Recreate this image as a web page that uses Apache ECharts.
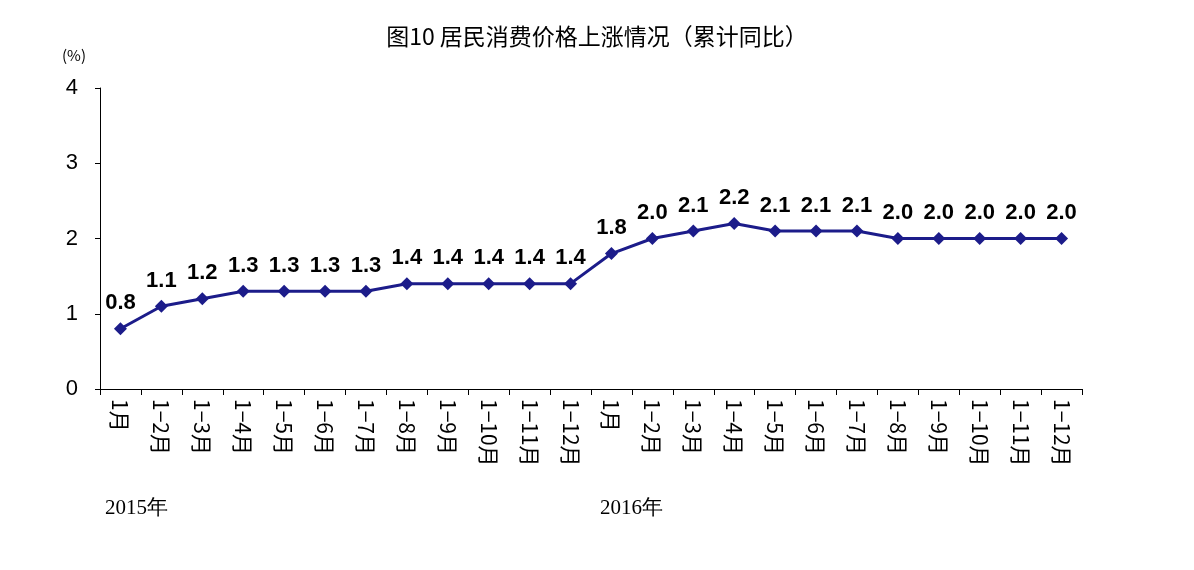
<!DOCTYPE html>
<html><head><meta charset="utf-8">
<script src="https://cdn.jsdelivr.net/npm/echarts@6/dist/echarts.min.js"></script>
<style>html,body{margin:0;padding:0;background:#fff}#c{width:1194px;height:570px}</style>
</head><body><div id="c"></div>
<script>
const categories = ['1月','1−2月','1−3月','1−4月','1−5月','1−6月','1−7月','1−8月','1−9月','1−10月','1−11月','1−12月',
  '1月','1−2月','1−3月','1−4月','1−5月','1−6月','1−7月','1−8月','1−9月','1−10月','1−11月','1−12月'];
const values = [0.8,1.1,1.2,1.3,1.3,1.3,1.3,1.4,1.4,1.4,1.4,1.4,1.8,2.0,2.1,2.2,2.1,2.1,2.1,2.0,2.0,2.0,2.0,2.0];
const yTicks = [0,1,2,3,4];
const font = '"Noto Sans CJK SC", "DejaVu Sans", sans-serif';
const chart = echarts.init(document.getElementById('c'));
chart.setOption({
  animation:false,
  title:{text:'图10 居民消费价格上涨情况（累计同比）',left:'center',top:20,
    textStyle:{fontFamily:font,fontSize:23,fontWeight:'normal',color:'#000'}},
  graphic:[
    {type:'text',left:62,top:48,style:{text:'(%)',font:'15px '+font,fill:'#000'}},
    {type:'text',left:105,top:498,style:{text:'2015年',font:'21px "Liberation Serif", serif',fill:'#000'}},
    {type:'text',left:600,top:498,style:{text:'2016年',font:'21px "Liberation Serif", serif',fill:'#000'}}
  ],
  grid:{left:100,right:112,top:88,bottom:181},
  xAxis:{type:'category',data:categories,
    axisLine:{lineStyle:{color:'#000',width:1}},
    axisTick:{show:true,length:6,lineStyle:{color:'#000'}},
    axisLabel:{rotate:-90,color:'#000',fontSize:21,fontFamily:font,margin:10}},
  yAxis:{type:'value',min:0,max:4,interval:1,
    axisLine:{show:true,lineStyle:{color:'#000'}},
    axisTick:{show:true,length:5,lineStyle:{color:'#000'}},
    splitLine:{show:false},
    axisLabel:{color:'#000',fontSize:22,fontFamily:'"Liberation Sans", Arial, sans-serif',margin:22,
      formatter:v=>yTicks.includes(v)?String(v):''}},
  series:[{type:'line',data:values,symbol:'diamond',symbolSize:13,
    lineStyle:{color:'#1c1c8a',width:3},itemStyle:{color:'#1c1c8a'},
    label:{show:true,position:'top',distance:8,color:'#000',fontSize:22,fontWeight:'bold',
      fontFamily:'"Liberation Sans", Arial, sans-serif',formatter:p=>p.value.toFixed(1)}}]
});
</script></body></html>
